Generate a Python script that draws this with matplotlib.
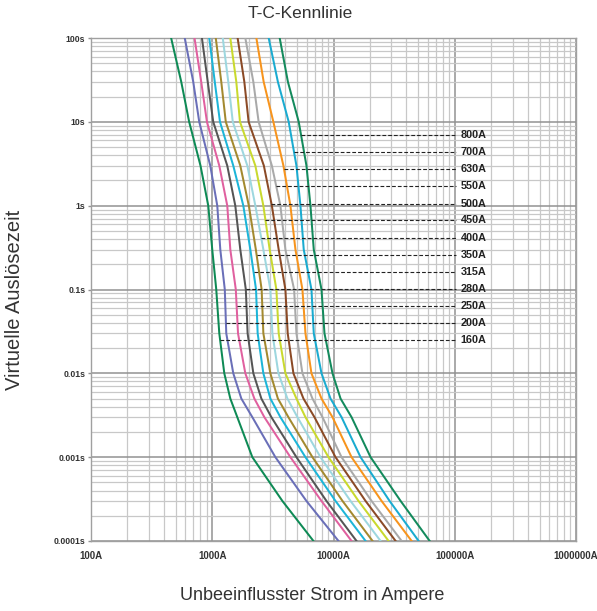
#!/usr/bin/env python3

"""
T-C-Kennlinie: Zeit/Strom-Kennlinien fuer Sicherungen 160A bis 800A.
"""

import matplotlib
matplotlib.use("Agg")
import matplotlib.pyplot as plt
import numpy as np
from matplotlib.ticker import LogLocator, NullFormatter

# --------------------------------- DATA --------------------------------------
# Virtuelle Auslösezeit in s, fuer jeden Kurvenpunkt gleich
times_s = [100, 30, 10, 3, 1, 0.3, 0.1, 0.03, 0.01, 0.005, 0.003, 0.001,
           0.0003, 0.0001]

i_160 = [458, 555, 645, 800, 927, 1000, 1079, 1143, 1257, 1409, 1609, 2141,
         3789, 6834]
i_200 = [593, 697, 781, 963, 1100, 1165, 1269, 1305, 1491, 1737, 2141, 3316,
         5983, 11000]
i_250 = [714, 811, 904, 1143, 1330, 1409, 1564, 1631, 1874, 2224, 2690, 4412,
         7960, 14090]
i_280 = [822, 918, 1019, 1330, 1549, 1703, 1892, 1957, 2182, 2541, 3073, 4946,
         8752, 15490]
i_315 = [945, 1049, 1158, 1491, 1804, 2061, 2297, 2368, 2639, 3015, 3648, 5870,
         10390, 18390]
i_350 = [1069, 1187, 1293, 1703, 2003, 2288, 2555, 2639, 3015, 3478, 4247,
         6705, 11870, 21010]
i_400 = [1221, 1356, 1477, 1947, 2267, 2639, 3015, 3132, 3512, 4167, 5040,
         7810, 13820, 24460]
i_450 = [1409, 1579, 1693, 2267, 2639, 2976, 3380, 3531, 4011, 4946, 5870,
         9093, 16090, 28480]
i_500 = [1619, 1839, 1995, 2665, 3102, 3531, 4011, 4191, 4671, 5651, 6966,
         10390, 18390, 32540]
i_550 = [1874, 2182, 2413, 3102, 3648, 4011, 4734, 4946, 5543, 6705, 8113,
         11650, 20610, 36480]
i_630 = [2311, 2655, 3192, 3863, 4412, 4853, 5543, 5870, 6579, 7960, 9810,
         14090, 24930, 44120]
i_700 = [2920, 3478, 4271, 4946, 5337, 5682, 6579, 6874, 7960, 9445, 11650,
         16720, 29020, 50400]
i_800 = [3600, 4207, 5167, 5983, 6455, 6874, 7960, 8425, 9810, 11430, 14090,
         20220, 35790, 62150]

ratings = ["160A", "200A", "250A", "280A", "315A", "350A", "400A", "450A",
           "500A", "550A", "630A", "700A", "800A"]
currents = [i_160, i_200, i_250, i_280, i_315, i_350, i_400, i_450, i_500,
            i_550, i_630, i_700, i_800]
colors = ["#0e8a55", "#6a6fb8", "#e0609f", "#555555", "#1cb5d8", "#a3892f",
          "#9dd7df", "#c9d92e", "#8b4a26", "#a9a9a9", "#f7941d", "#1aabd0",
          "#138a5c"]

# Hoehe der Beschriftungslinien (s), von 160A bis 800A
label_times = [0.0247, 0.0396, 0.0632, 0.101, 0.163, 0.259, 0.416, 0.667,
               1.06, 1.71, 2.73, 4.36, 7.0]
label_line_end = 1.02e5
label_text_x = 1.12e5

x_ticks = [100, 1000, 10000, 100000, 1000000]
x_ticklabels = ["100A", "1000A", "10000A", "100000A", "1000000A"]
y_ticks = [0.0001, 0.001, 0.01, 0.1, 1, 10, 100]
y_ticklabels = ["0.0001s", "0.001s", "0.01s", "0.1s", "1s", "10s", "100s"]
# --------------------------------- DATA --------------------------------------


def main():
    plt.rcParams["font.family"] = ["Liberation Sans", "DejaVu Sans"]

    fig = plt.figure(figsize=(5.97, 6.11), dpi=100)
    ax = fig.add_axes([91 / 597, 1 - 541 / 611, 485 / 597, 503 / 611])

    ax.set_xscale("log")
    ax.set_yscale("log")
    ax.set_xlim(100, 1000000)
    ax.set_ylim(0.0001, 100)

    # Gitter
    ax.xaxis.set_minor_locator(LogLocator(base=10, subs=np.arange(2, 10)))
    ax.yaxis.set_minor_locator(LogLocator(base=10, subs=np.arange(2, 10)))
    ax.xaxis.set_minor_formatter(NullFormatter())
    ax.yaxis.set_minor_formatter(NullFormatter())
    ax.grid(which="major", color="#929292", linewidth=1.1)
    ax.grid(which="minor", color="#c8c8c8", linewidth=0.9)
    ax.set_axisbelow(True)

    for spine in ax.spines.values():
        spine.set_color("#a0a0a0")
        spine.set_linewidth(1.0)

    ax.set_xticks(x_ticks)
    ax.set_xticklabels(x_ticklabels)
    ax.set_yticks(y_ticks)
    ax.set_yticklabels(y_ticklabels)
    ax.tick_params(axis="x", which="major", length=0, pad=7,
                   labelsize=7, labelcolor="#333333")
    ax.tick_params(axis="y", which="major", length=2.5, width=1.0,
                   color="#929292", pad=1.5, labelsize=6.3,
                   labelcolor="#333333")
    ax.tick_params(which="minor", length=0)
    for label in ax.get_xticklabels() + ax.get_yticklabels():
        label.set_fontweight("bold")

    # Kennlinien
    for current, color in zip(currents, colors):
        ax.plot(current, times_s, color=color, linewidth=1.45,
                solid_joinstyle="round", zorder=3)

    # Beschriftungslinien, beginnend an der jeweiligen Kurve
    log_t = np.log10(times_s)[::-1]
    for current, rating, t in zip(currents, ratings, label_times):
        log_i = np.log10(current)[::-1]
        start = 10 ** np.interp(np.log10(t), log_t, log_i)
        ax.plot([start, label_line_end], [t, t], color="#222222",
                linewidth=0.8, linestyle=(0, (3.4, 1.8)), zorder=4)
        ax.text(label_text_x, t, rating, fontsize=7.8, fontweight="bold",
                color="#222222", va="center", ha="left", zorder=5)

    fig.text(0.503, 1 - 14 / 611, "T-C-Kennlinie", fontsize=12.5,
             color="#333333", ha="center", va="center")
    fig.text(312 / 597, 1 - 595 / 611, "Unbeeinflusster Strom in Ampere",
             fontsize=13, color="#333333", ha="center", va="center")
    fig.text(15 / 597, 1 - 300 / 611, "Virtuelle Auslösezeit",
             fontsize=14.5, color="#333333", ha="center", va="center",
             rotation=90)

    fig.savefig("out.png", dpi=100)


if __name__ == "__main__":
    main()
